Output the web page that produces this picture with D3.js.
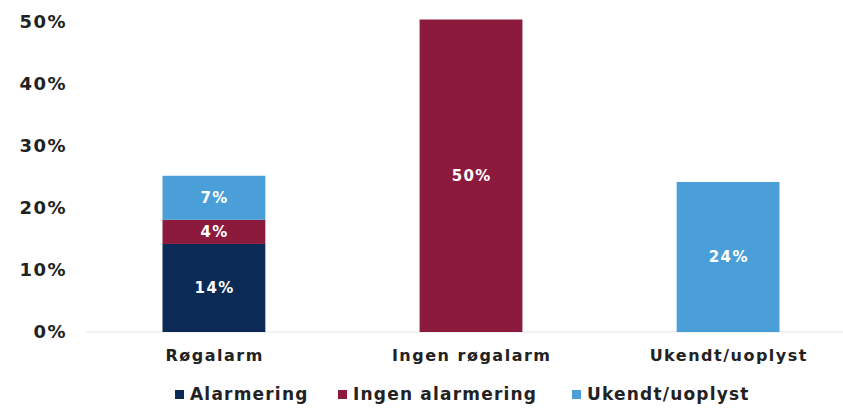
<!DOCTYPE html>
<html>
<head>
<meta charset="utf-8">
<script src="https://cdn.jsdelivr.net/npm/d3@7"></script>
<style>
  body { margin: 0; background: #fff; }
  text { font-family: "DejaVu Sans", Verdana, sans-serif; font-weight: bold; }
</style>
</head>
<body>
<svg id="chart" width="843" height="411"></svg>
<script>
// categories on the x axis
const categories = ["Røgalarm", "Ingen røgalarm", "Ukendt/uoplyst"];
// series (stack order bottom -> top)
const seriesNames = ["Alarmering", "Ingen alarmering", "Ukendt/uoplyst"];
const alarmering = [14.2, 0, 0];
const ingenAlarmering = [3.9, 50.4, 0];
const ukendt = [7.1, 0, 24.2];
const labels = [["14%", "4%", "7%"], ["", "50%", ""], ["", "", "24%"]];
const yTicks = [0, 10, 20, 30, 40, 50];
const colors = ["#0b2a55", "#8c1a3d", "#4b9fd8"];

const svg = d3.select("#chart");

const x = d3.scaleBand().domain(categories).range([162.5, 779.5]).paddingInner(0.6).paddingOuter(0);
const y = d3.scaleLinear().domain([0, 50]).range([332, 22]);

// baseline
svg.append("line")
  .attr("x1", 86).attr("x2", 843)
  .attr("y1", y(0)).attr("y2", y(0))
  .attr("stroke", "#e3e3e3").attr("stroke-width", 1);

// y axis labels
const yAxis = d3.axisLeft(y).tickValues(yTicks).tickFormat(d => d + "%").tickSize(0).tickPadding(0);
svg.append("g")
  .attr("transform", "translate(67,0)")
  .call(yAxis)
  .call(g => g.select(".domain").remove())
  .call(g => g.selectAll("text").attr("font-size", 18).attr("letter-spacing", "1.5px")
    .attr("fill", "#222").attr("font-family", null));

// stacked data
const rows = categories.map((c, i) => ({
  cat: c, s0: alarmering[i], s1: ingenAlarmering[i], s2: ukendt[i], i
}));
const stack = d3.stack().keys(["s0", "s1", "s2"]);
const layers = stack(rows);

layers.forEach((layer, li) => {
  svg.append("g").selectAll("rect")
    .data(layer.filter(d => d[1] - d[0] > 0))
    .join("rect")
    .attr("x", d => x(d.data.cat))
    .attr("width", x.bandwidth())
    .attr("y", d => y(d[1]))
    .attr("height", d => y(d[0]) - y(d[1]))
    .attr("fill", colors[li]);

  svg.append("g").selectAll("text")
    .data(layer.filter(d => d[1] - d[0] > 0))
    .join("text")
    .attr("x", d => x(d.data.cat) + x.bandwidth() / 2 + 0.7)
    .attr("y", d => (y(d[0]) + y(d[1])) / 2)
    .attr("dy", "0.36em")
    .attr("text-anchor", "middle")
    .attr("fill", "#fff")
    .attr("font-size", 15)
    .attr("letter-spacing", "1.4px")
    .text(d => labels[d.data.i][li]);
});

// category labels
const xAxis = d3.axisBottom(x).tickSize(0).tickPadding(0);
svg.append("g")
  .attr("transform", "translate(0.7,350)")
  .call(xAxis)
  .call(g => g.select(".domain").remove())
  .call(g => g.selectAll("text").attr("font-size", 16).attr("letter-spacing", "1.5px")
    .attr("fill", "#222").attr("font-family", null).attr("dy", "0.71em"));

// legend
const legendX = [175, 338, 572];
const legend = svg.append("g");
seriesNames.forEach((name, i) => {
  legend.append("rect")
    .attr("x", legendX[i]).attr("y", 390)
    .attr("width", 9).attr("height", 9)
    .attr("fill", colors[i]);
  legend.append("text")
    .attr("x", legendX[i] + 15).attr("y", 394)
    .attr("dy", "0.36em")
    .attr("font-size", 17).attr("letter-spacing", "1.2px").attr("fill", "#222")
    .text(name);
});
</script>
</body>
</html>
